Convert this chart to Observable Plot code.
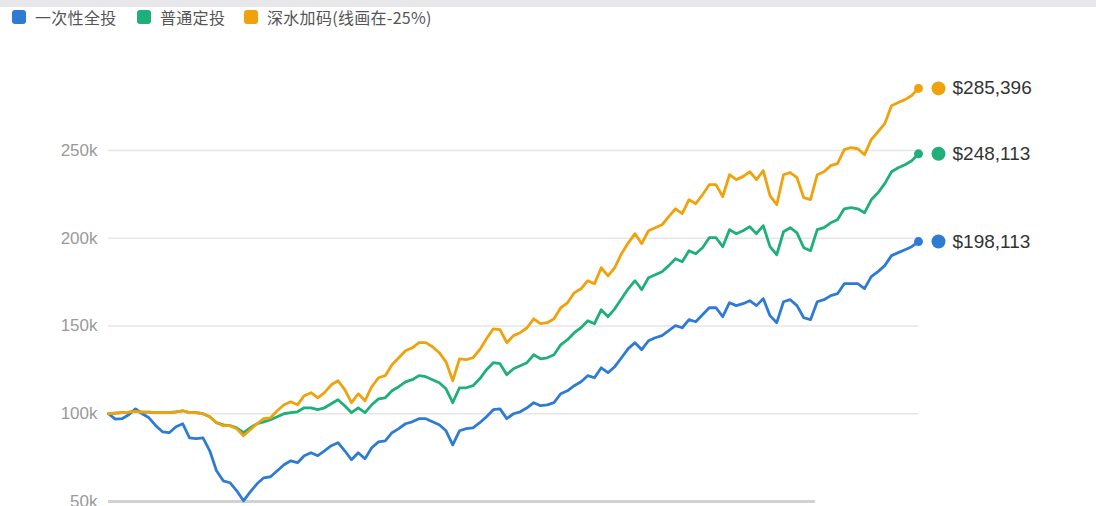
<!DOCTYPE html>
<html><head><meta charset="utf-8">
<script src="https://cdn.jsdelivr.net/npm/d3@7"></script>
<script src="https://cdn.jsdelivr.net/npm/@observablehq/plot@0.6"></script>
<style>
body{margin:0;background:#fff;width:1096px;height:506px;overflow:hidden;position:relative;font-family:"Liberation Sans",Arial,sans-serif}
#topbar{position:absolute;left:0;top:0;width:1096px;height:7px;background:#e7e7e9}
#legend{position:absolute;left:0;top:0;height:30px;width:1096px}
.sw{position:absolute;top:10px;width:14px;height:14px;border-radius:3px}
.lt{position:absolute;top:7px;font-size:16px;font-family:"Noto Sans CJK SC","Liberation Sans",sans-serif;color:#555;line-height:20px;letter-spacing:0.3px;white-space:nowrap}
#chart{position:absolute;left:0;top:30px}
</style></head><body>
<div id="topbar"></div><div id="legend"></div><div id="chart"></div>
<script>
// Series names and colours
const seriesNames = ["一次性全投", "普通定投", "深水加码(线画在-25%)"];
const seriesColors = ["#2e7bd4", "#1faf7b", "#f0a20c"];

// Y-axis ticks (dollars)
const yTicks = [50000, 100000, 150000, 200000, 250000];

// Monthly portfolio values, in thousands of dollars (121 points)
const lumpSum = [
100.0,96.9,97.2,99.4,102.8,100.0,97.7,93.2,89.7,89.2,
92.6,94.3,86.3,85.8,86.3,78.9,67.5,61.8,60.7,56.1,
50.4,55.5,60.1,63.5,64.1,67.5,70.9,73.2,72.1,76.1,
77.8,76.1,78.9,81.8,83.5,78.9,73.8,77.8,74.4,80.6,
84.0,84.6,89.2,91.5,94.3,95.4,97.2,97.2,95.4,93.7,
90.3,82.3,90.3,91.5,92.0,94.9,98.3,102.3,102.8,97.2,
100.0,101.1,103.4,106.3,104.6,105.1,106.3,111.4,113.1,116.0,
118.2,121.7,120.5,126.2,123.4,126.8,131.9,137.1,140.5,136.5,
141.6,143.3,144.5,147.3,150.2,149.0,153.6,152.4,156.4,160.4,
160.4,155.3,163.3,161.6,162.7,164.4,161.6,165.6,155.9,151.9,
163.8,165.0,161.6,154.7,153.6,163.8,165.0,167.3,168.4,174.1,
174.1,174.1,171.3,178.1,181.0,184.4,190.1,191.8,193.5,195.2,
198.113];

const regularDCA = [
100.0,100.3,100.6,100.9,101.4,100.9,100.9,100.6,100.6,100.6,
101.1,101.7,100.6,100.6,100.0,98.3,94.9,93.7,93.2,92.0,
89.2,92.0,94.3,95.4,96.6,98.3,100.0,100.6,101.1,103.4,
103.4,102.3,103.4,105.7,108.0,104.6,100.6,103.4,100.6,105.1,
108.5,109.1,113.1,115.4,118.2,119.4,121.7,121.1,119.4,117.7,
114.2,106.3,114.8,114.8,116.0,119.9,125.1,129.1,128.5,122.2,
125.6,127.3,129.1,133.6,131.3,131.9,133.6,139.3,142.2,146.2,
149.0,153.0,151.3,159.3,155.3,159.8,165.5,171.2,175.8,170.7,
177.5,179.2,180.9,184.4,188.3,186.6,192.9,191.2,194.6,200.3,
200.3,195.2,204.9,202.6,204.3,206.6,202.6,207.2,195.2,190.6,
203.7,206.0,203.1,194.6,192.9,204.9,206.0,208.8,210.5,216.8,
217.4,216.8,214.5,221.9,225.9,231.1,237.9,240.2,241.9,244.2,
248.113];

const deepDipDCA = [
100.0,100.3,100.6,100.9,101.4,100.9,100.9,100.6,100.6,100.6,
101.1,101.7,100.6,100.6,100.0,98.3,94.9,93.2,93.2,91.5,
87.5,90.9,94.3,97.2,97.7,101.7,105.1,106.8,105.1,110.3,
112.0,109.1,112.0,116.5,118.8,113.7,106.3,111.4,107.4,115.4,
120.5,121.7,127.9,131.9,135.9,137.6,140.5,140.5,138.2,134.8,
129.6,118.8,131.3,130.8,131.9,136.5,142.7,148.4,147.9,140.5,
144.5,146.2,149.0,154.1,151.3,151.9,154.1,160.4,163.2,168.9,
171.2,175.8,174.1,183.2,178.6,183.2,191.2,197.4,202.6,196.9,
204.3,206.0,207.7,212.3,216.8,214.0,222.0,219.7,224.8,230.5,
230.5,223.7,236.2,233.4,235.1,237.9,233.4,238.5,224.3,219.1,
236.2,237.4,234.5,223.1,222.0,236.2,237.9,241.4,242.5,250.5,
251.6,251.0,247.6,256.2,260.7,265.3,275.5,277.3,279.0,281.3,
285.396];

const seriesValues = [lumpSum, regularDCA, deepDipDCA];

// Legend
const legend = document.getElementById("legend");
const swX = [12, 137, 244], txX = [35, 160, 267];
seriesNames.forEach((name, k) => {
  const sw = document.createElement("div");
  sw.className = "sw"; sw.style.left = swX[k] + "px"; sw.style.background = seriesColors[k];
  const t = document.createElement("div");
  t.className = "lt"; t.style.left = txX[k] + "px"; t.textContent = name;
  legend.appendChild(sw); legend.appendChild(t);
});

// Build table
const rows = [];
seriesNames.forEach((s, k) => seriesValues[k].forEach((v, i) => rows.push({series: s, i, v: v * 1000})));
const ends = seriesNames.map((s, k) => {
  const arr = seriesValues[k];
  const v = arr[arr.length - 1] * 1000;
  return {series: s, i: arr.length - 1, v, label: "$" + d3.format(",")(Math.round(v))};
});
const n = lumpSum.length - 1;

const chart = Plot.plot({
  width: 1096, height: 476,
  marginLeft: 108, marginRight: 178, marginTop: 32.25, marginBottom: 5,
  x: {domain: [0, n], axis: null},
  y: {domain: [50000, 300000], ticks: yTicks, tickFormat: d => d / 1000 + "k", tickSize: 0, tickPadding: 11, label: null},
  color: {domain: seriesNames, range: seriesColors},
  style: {fontFamily: "'Liberation Sans', Arial, sans-serif", fontSize: "17px", color: "#9a9a9a", background: "transparent", overflow: "visible"},
  marks: [
    Plot.ruleY(yTicks.filter(t => t > 50000), {stroke: "#e6e6e6", strokeWidth: 1.5}),
    Plot.ruleY([50000], {x1: 0, x2: n * 0.873, stroke: "#d2d2d2", strokeWidth: 3}),
    Plot.lineY(rows, {x: "i", y: "v", z: "series", stroke: "series", strokeWidth: 2.8, strokeLinejoin: "round"}),
    Plot.dot(ends, {x: "i", y: "v", fill: "series", r: 4.5}),
    Plot.dot(ends, {x: "i", y: "v", fill: "series", r: 7, dx: 20}),
    Plot.text(ends, {x: "i", y: "v", text: "label", dx: 34, textAnchor: "start", fill: "#333", fontSize: 19})
  ]
});
document.getElementById("chart").appendChild(chart);
</script>
</body></html>
